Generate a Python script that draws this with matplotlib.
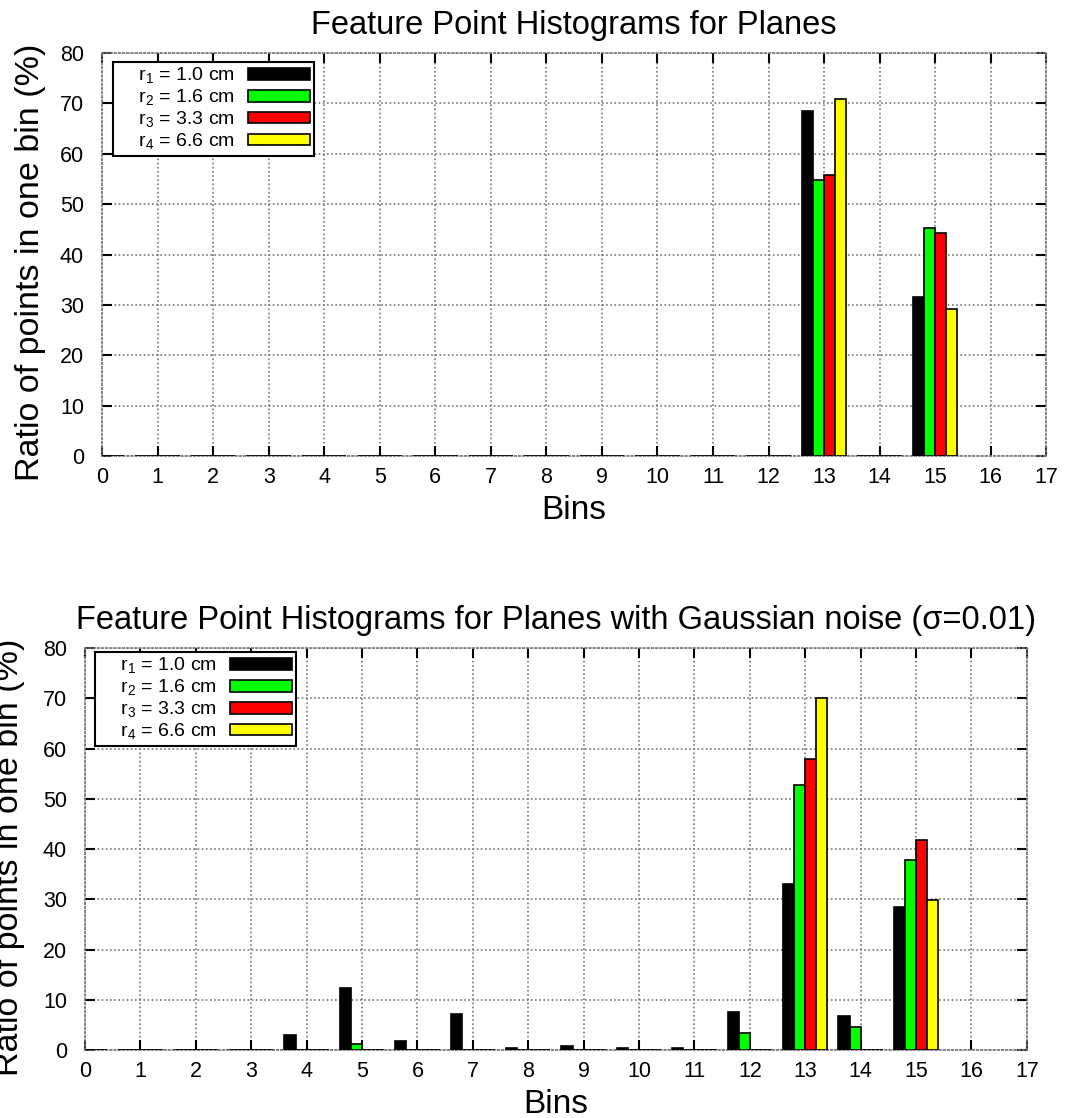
import numpy as np
import matplotlib
matplotlib.use("Agg")
from matplotlib import pyplot as plt
from matplotlib.patches import Patch

plt.rcParams['font.family'] = ['Liberation Sans', 'DejaVu Sans']
plt.rcParams['mathtext.fontset'] = 'custom'
plt.rcParams['mathtext.rm'] = 'Liberation Sans'

bins = np.arange(16)
labels = [r'    r$_1$ = 1.0 cm', r'    r$_2$ = 1.6 cm', r'    r$_3$ = 3.3 cm', r'    r$_4$ = 6.6 cm']
colors = ['#000000', '#00ff00', '#ff0000', '#ffff00']

# planes, no noise
clean_r1 = [0, 0, 0, 0, 0, 0, 0, 0, 0, 0, 0, 0, 0, 68.5, 0, 31.5]
clean_r2 = [0, 0, 0, 0, 0, 0, 0, 0, 0, 0, 0, 0, 0, 54.8, 0, 45.2]
clean_r3 = [0, 0, 0, 0, 0, 0, 0, 0, 0, 0, 0, 0, 0, 55.7, 0, 44.3]
clean_r4 = [0, 0, 0, 0, 0, 0, 0, 0, 0, 0, 0, 0, 0, 70.8, 0, 29.2]

# planes with gaussian noise
noise_r1 = [0, 0, 0, 0, 3.0, 12.4, 1.7, 7.2, 0.4, 0.9, 0.5, 0.5, 7.5, 33.0, 6.8, 28.5]
noise_r2 = [0, 0, 0, 0, 0, 1.2, 0, 0, 0, 0, 0, 0, 3.3, 52.7, 4.5, 37.9]
noise_r3 = [0, 0, 0, 0, 0, 0, 0, 0, 0, 0, 0, 0, 0, 58.0, 0, 41.8]
noise_r4 = [0, 0, 0, 0, 0, 0, 0, 0, 0, 0, 0, 0, 0, 70.0, 0, 29.9]


def draw(ax, series, title, leg_anchor, ylab_x):
    w = 0.2
    offsets = [-0.3, -0.1, 0.1, 0.3]
    for vals, c, off in zip(series, colors, offsets):
        ax.bar(bins + off, vals, width=w, color=c, edgecolor='black', linewidth=1.2, zorder=3)
    ax.set_xlim(0, 17)
    ax.set_ylim(0, 80)
    ax.set_xticks(range(0, 18))
    ax.set_yticks(range(0, 81, 10))
    ax.grid(True, linestyle=(0, (1, 1.5)), color='#777777', linewidth=1.2, zorder=0)
    for s in ax.spines.values():
        s.set_linestyle((0, (1, 1.5)))
        s.set_color('#777777')
        s.set_linewidth(1.2)
    ax.tick_params(direction='in', length=7, width=1.5, top=True, right=True, labelsize=15.5)
    ax.tick_params(axis='x', pad=8)
    ax.tick_params(axis='y', pad=13)
    ax.set_title(title, fontsize=23.5, pad=14)
    ax.set_xlabel('Bins', fontsize=24, labelpad=5)
    ax.set_ylabel('Ratio of points in one bin (%)', fontsize=24.5)
    ax.yaxis.set_label_coords(ylab_x, 0.48)
    handles = [Patch(facecolor=c, edgecolor='black', linewidth=1.2) for c in colors]
    leg = ax.legend(handles, labels, loc='upper left', bbox_to_anchor=leg_anchor, borderaxespad=0,
                    markerfirst=False, fontsize=14, labelspacing=0.08, handlelength=3.2,
                    handleheight=0.55, handletextpad=0.65, borderpad=0.2,
                    fancybox=False, framealpha=1, edgecolor='black')
    leg.get_frame().set_linewidth(1.5)
    leg.set_zorder(5)


fig = plt.figure(figsize=(10.73, 11.18), dpi=100)
ax1 = fig.add_axes([0.0951, 0.592, 0.880, 0.3606])
ax2 = fig.add_axes([0.0792, 0.0608, 0.8778, 0.3596])

draw(ax1, [clean_r1, clean_r2, clean_r3, clean_r4], 'Feature Point Histograms for Planes',
     (0.012, 0.978), -0.059)
draw(ax2, [noise_r1, noise_r2, noise_r3, noise_r4],
     'Feature Point Histograms for Planes with Gaussian noise (σ=0.01)', (0.011, 0.99), -0.064)

plt.savefig('out.png', dpi=100)
